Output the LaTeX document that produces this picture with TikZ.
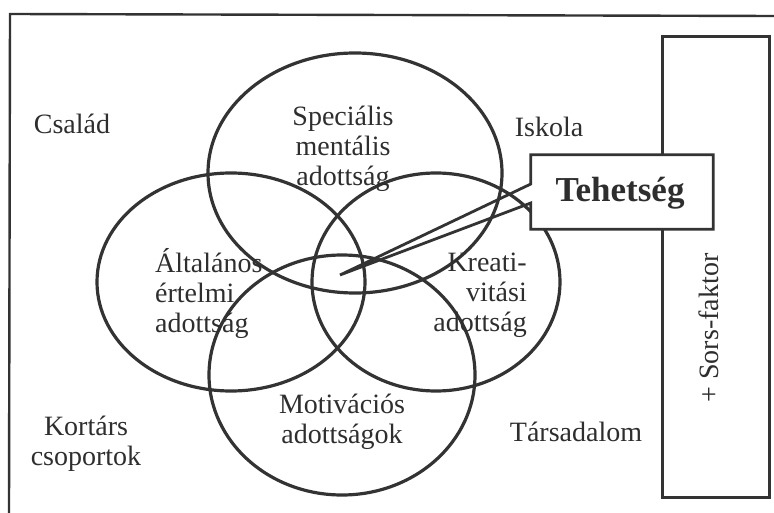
\documentclass[tikz,border=0pt]{standalone}
\usepackage{fontspec}
\setmainfont{Liberation Serif}
\usetikzlibrary{shapes.geometric}
\definecolor{ink}{HTML}{333333}
\definecolor{txt}{HTML}{2E2E2E}
\tikzset{
  ring/.style={draw=ink, line width=3.2pt, ellipse, inner sep=0pt},
  lbl/.style={text=txt, font=\fontsize{28}{30}\selectfont, inner sep=0pt},
  frameline/.style={draw=ink, line width=3pt},
}
\begin{document}
\begin{tikzpicture}[x=1pt,y=-1pt]
\useasboundingbox (0,0) rectangle (774,513);
% outer frame (cropped)
\coordinate (fTL) at (10,14);
\coordinate (fTR) at (774,16);
\coordinate (fBL) at (9,513);
\draw[ink, line width=2.4pt] (fBL) -- (fTL) -- (fTR);
% Sors box
\node[frameline, minimum width=107pt, minimum height=461pt, inner sep=0pt] (sors) at (716,267) {};
\node[lbl, rotate=90] (sorstxt) at (709,328) {+ Sors-faktor};
% ellipses
\node[ring, minimum width=294pt, minimum height=240pt] (spec) at (355,173) {};
\node[ring, minimum width=268pt, minimum height=218pt] (alt) at (231,282) {};
\node[ring, minimum width=248pt, minimum height=218pt] (krea) at (436,282) {};
\node[ring, minimum width=266pt, minimum height=240pt] (moti) at (342,375) {};
% ellipse labels
\node[lbl, align=center] (spectxt) at (343,149) {Speciális\\mentális\\adottság};
\node[lbl, align=left, anchor=west] (alttxt) at (155,294) {Általános\\értelmi\\adottság};
\node[lbl, align=right, anchor=east] (kreatxt) at (527,295) {Kreati-\\vitási\\adottság};
\node[lbl, align=center] (motitxt) at (342,422) {Motivációs\\adottságok};
% surrounding labels
\node[lbl] (csalad) at (72,124) {Család};
\node[lbl] (iskola) at (549,127) {Iskola};
\node[lbl, align=center] (kortars) at (86,444) {Kortárs\\csoportok};
\node[lbl] (tars) at (576,432) {Társadalom};
% Tehetség callout
\node[fill=white, minimum width=182pt, minimum height=74pt, inner sep=0pt] (teh) at (622,192) {};
\node[text=txt, font=\fontsize{35}{38}\selectfont\bfseries, inner sep=0pt] (tehtxt) at (620,193) {Tehetség};
\coordinate (tip) at (340,275);
\draw[ink, line width=2.8pt, line join=miter]
  (teh.south west) -- ([yshift=-11pt]teh.west) -- (tip) -- ([yshift=8pt]teh.west)
  -- (teh.north west) -- (teh.north east) -- (teh.south east) -- cycle;
\end{tikzpicture}
\end{document}
